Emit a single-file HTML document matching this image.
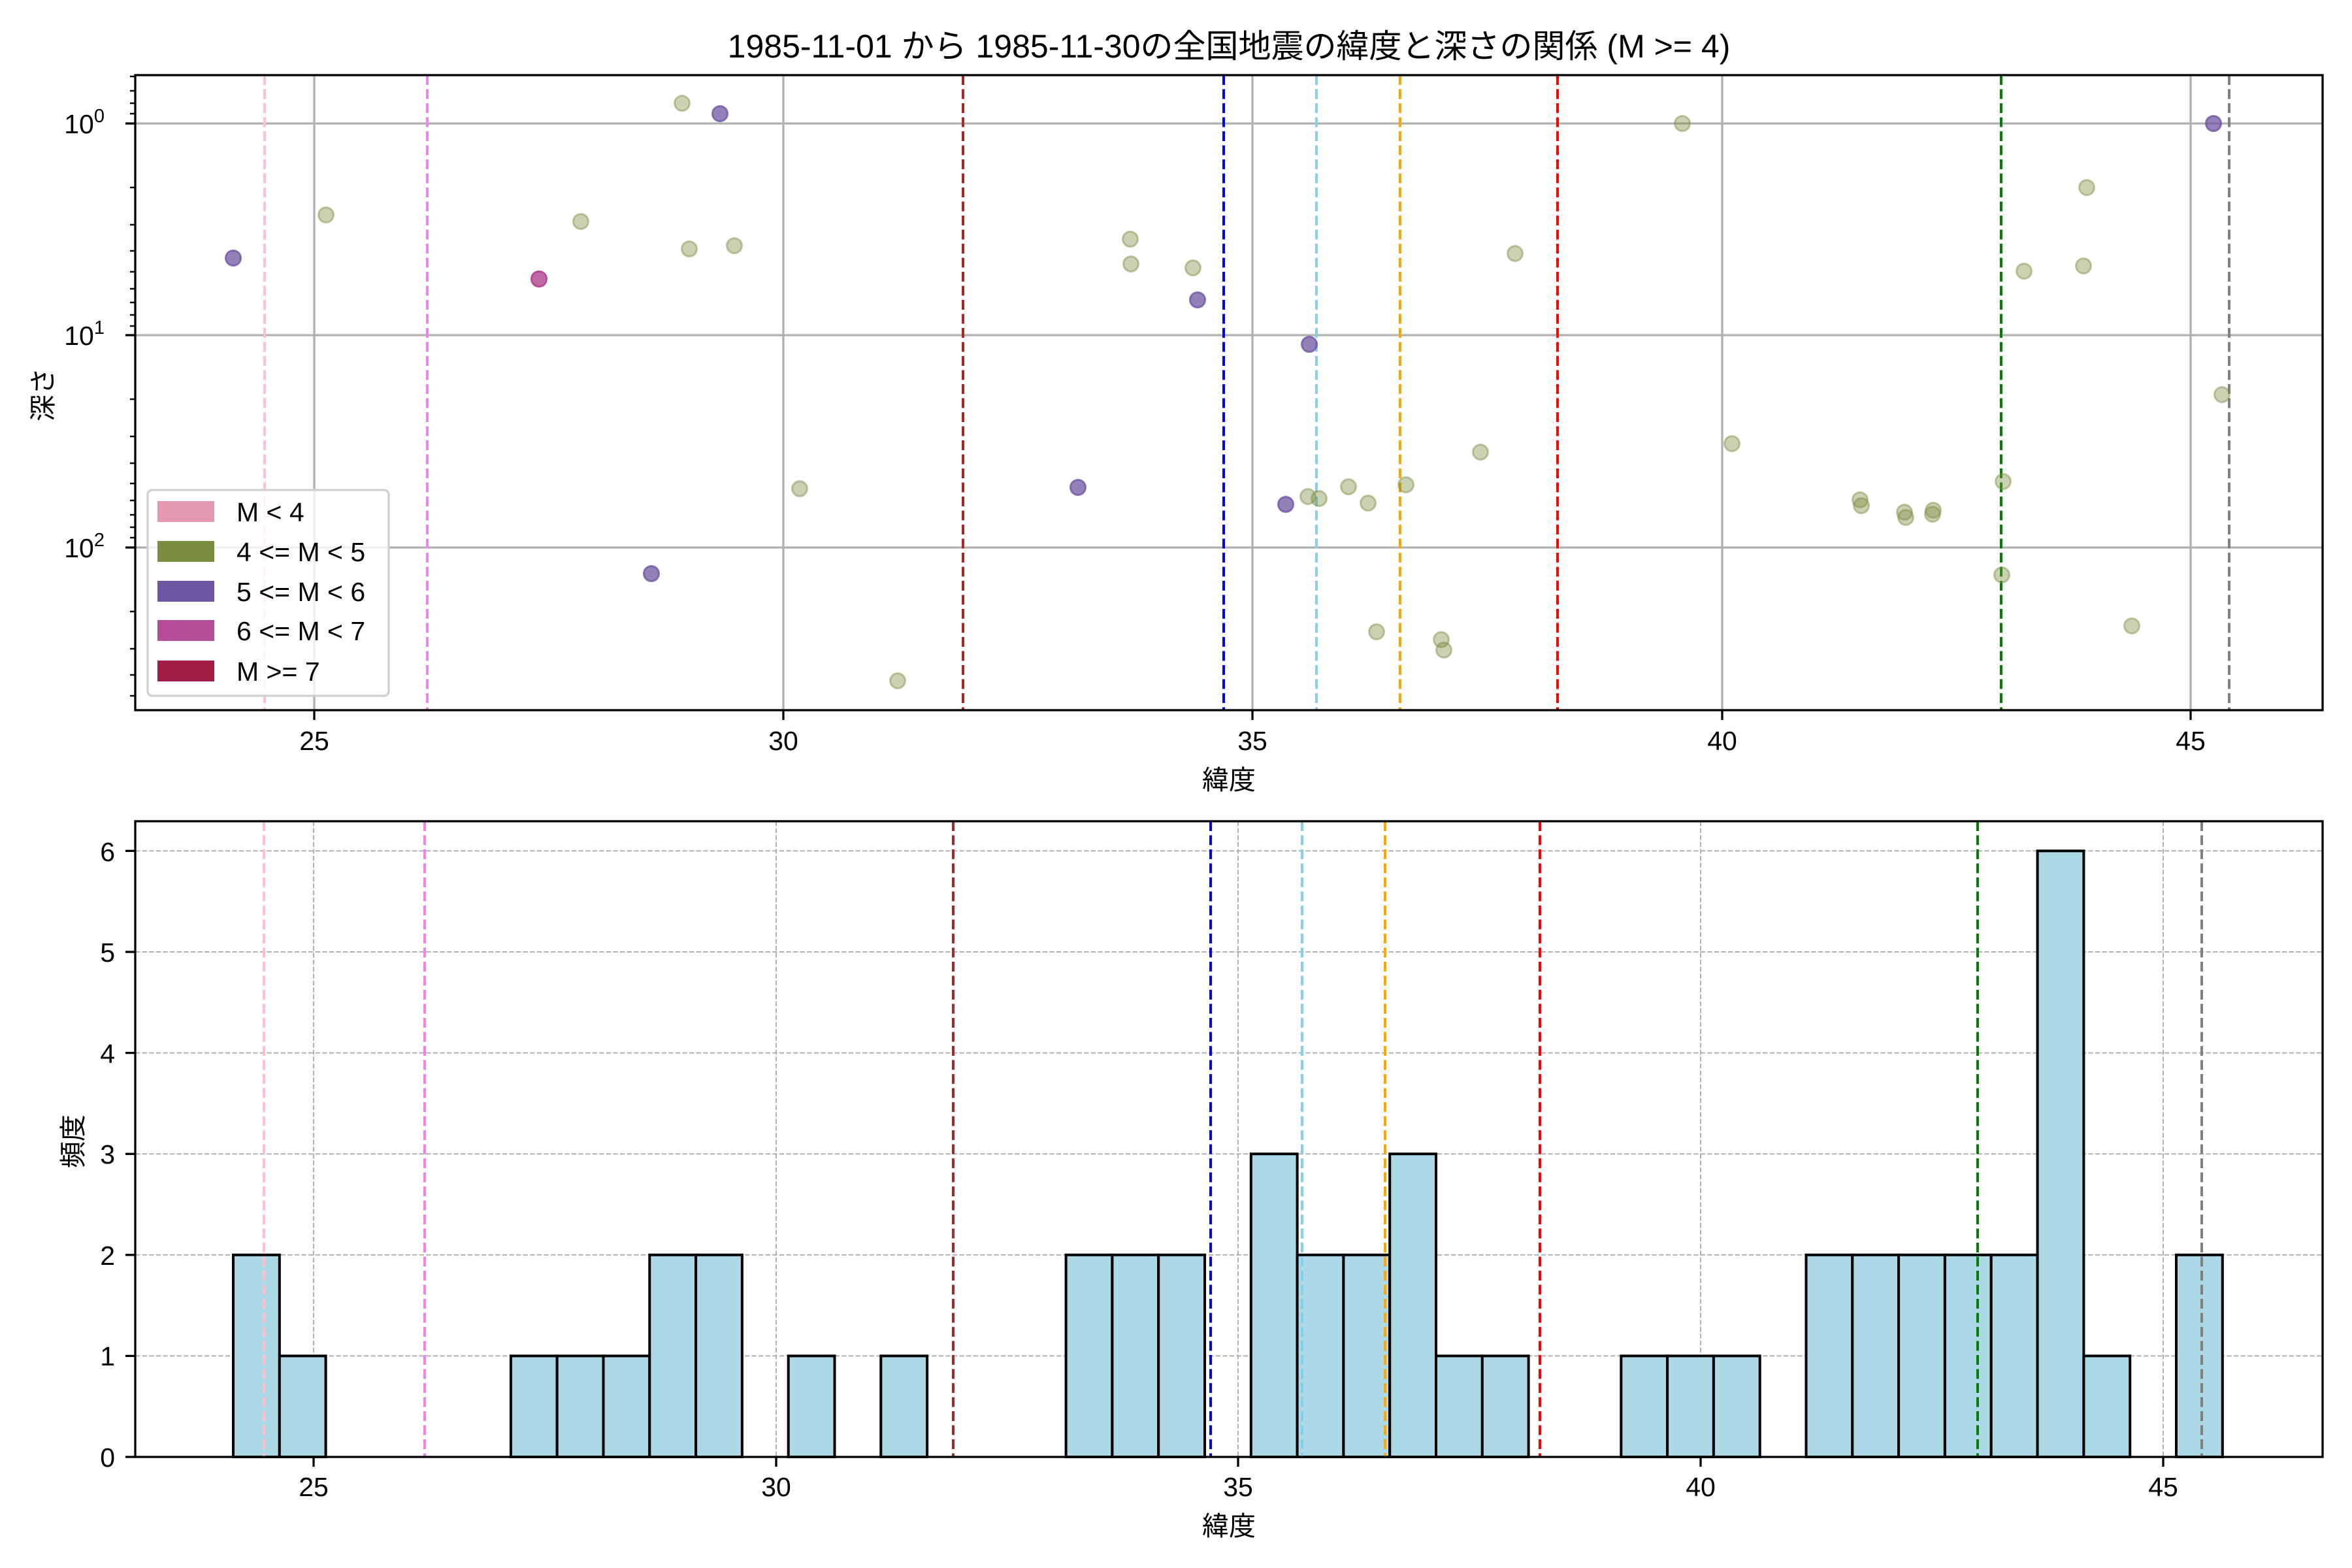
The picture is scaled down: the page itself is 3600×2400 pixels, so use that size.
<!DOCTYPE html>
<html><head><meta charset="utf-8"><style>
html,body{margin:0;padding:0;background:#fff}
svg{display:block}
text{font-family:"Liberation Sans","Noto Sans CJK JP",sans-serif;fill:#000}
</style></head><body>
<svg width="3600" height="2400" viewBox="0 0 3600 2400" xmlns="http://www.w3.org/2000/svg">
<rect width="3600" height="2400" fill="#fff"/>
<text x="1881" y="88" font-size="50" text-anchor="middle">1985-11-01 から 1985-11-30の全国地震の緯度と深さの関係 (M &gt;= 4)</text>

<!-- TOP AXES -->
<g stroke="#b0b0b0" stroke-width="3.3">
<line x1="481" y1="115" x2="481" y2="1087"/><line x1="1199" y1="115" x2="1199" y2="1087"/><line x1="1917" y1="115" x2="1917" y2="1087"/><line x1="2636" y1="115" x2="2636" y2="1087"/><line x1="3353" y1="115" x2="3353" y2="1087"/>
<line x1="207" y1="189" x2="3555" y2="189"/><line x1="207" y1="513" x2="3555" y2="513"/><line x1="207" y1="838" x2="3555" y2="838"/>
</g>
<g stroke-width="4" stroke-dasharray="15 6.5" fill="none">
<line x1="405" y1="115" x2="405" y2="1087" stroke="#ffc0cb"/>
<line x1="654" y1="115" x2="654" y2="1087" stroke="#ee82ee"/>
<line x1="1474" y1="115" x2="1474" y2="1087" stroke="#a52a2a"/>
<line x1="1873" y1="115" x2="1873" y2="1087" stroke="#0000ff"/>
<line x1="2015" y1="115" x2="2015" y2="1087" stroke="#87ceeb"/>
<line x1="2143" y1="115" x2="2143" y2="1087" stroke="#ffa500"/>
<line x1="2384" y1="115" x2="2384" y2="1087" stroke="#ff0000"/>
<line x1="3063" y1="115" x2="3063" y2="1087" stroke="#008000"/>
<line x1="3412" y1="115" x2="3412" y2="1087" stroke="#808080"/>
</g>
<g fill="#7d8b40" fill-opacity="0.4" stroke="#7d8b40" stroke-opacity="0.45" stroke-width="3">
<circle cx="499" cy="329" r="11.5"/><circle cx="889" cy="339" r="11.5"/><circle cx="1044" cy="158" r="11.5"/><circle cx="1055" cy="381" r="11.5"/><circle cx="1124" cy="376" r="11.5"/>
<circle cx="1224" cy="748" r="11.5"/><circle cx="1374" cy="1042" r="11.5"/><circle cx="1730" cy="366" r="11.5"/><circle cx="1731" cy="404" r="11.5"/><circle cx="1826" cy="410" r="11.5"/>
<circle cx="2002" cy="760" r="11.5"/><circle cx="2019" cy="763" r="11.5"/><circle cx="2064" cy="745" r="11.5"/><circle cx="2094" cy="770" r="11.5"/><circle cx="2152" cy="742" r="11.5"/><circle cx="2266" cy="692" r="11.5"/><circle cx="2319" cy="388" r="11.5"/><circle cx="2107" cy="967" r="11.5"/><circle cx="2206" cy="979" r="11.5"/><circle cx="2210" cy="995" r="11.5"/>
<circle cx="2575" cy="189" r="11.5"/><circle cx="3194" cy="287" r="11.5"/><circle cx="3098" cy="415" r="11.5"/><circle cx="3189" cy="407" r="11.5"/><circle cx="3401" cy="604" r="11.5"/><circle cx="2651" cy="679" r="11.5"/><circle cx="3066" cy="737" r="11.5"/>
<circle cx="2847" cy="765" r="11.5"/><circle cx="2849" cy="774" r="11.5"/><circle cx="2915" cy="784" r="11.5"/><circle cx="2917" cy="792" r="11.5"/><circle cx="2959" cy="781" r="11.5"/><circle cx="2958" cy="787" r="11.5"/><circle cx="3064" cy="880" r="11.5"/><circle cx="3263" cy="958" r="11.5"/>
</g>
<g fill="#6f57a3" fill-opacity="0.75" stroke="#6f57a3" stroke-opacity="0.8" stroke-width="3">
<circle cx="357" cy="395" r="11.5"/><circle cx="1102" cy="174" r="11.5"/><circle cx="997" cy="878" r="11.5"/><circle cx="1833" cy="459" r="11.5"/><circle cx="1650" cy="746" r="11.5"/><circle cx="2004" cy="527" r="11.5"/><circle cx="1968" cy="772" r="11.5"/><circle cx="3388" cy="189" r="11.5"/>
</g>
<circle cx="825" cy="427" r="11.5" fill="#b44d97" fill-opacity="0.85" stroke="#b44d97" stroke-width="3"/>

<!-- legend -->
<rect x="226" y="750" width="369" height="315" rx="7" fill="#fff" fill-opacity="0.8" stroke="#d0d0d0" stroke-width="3.3"/>
<rect x="241" y="767" width="87" height="32" fill="#e598b3"/>
<rect x="241" y="828" width="87" height="32" fill="#7a8c40"/>
<rect x="241" y="889" width="87" height="32" fill="#6f57a3"/>
<rect x="241" y="949" width="87" height="32" fill="#b44d97"/>
<rect x="241" y="1011" width="87" height="32" fill="#a11d43"/>
<g font-size="41">
<text x="362" y="798">M &lt; 4</text>
<text x="362" y="859">4 &lt;= M &lt; 5</text>
<text x="362" y="920">5 &lt;= M &lt; 6</text>
<text x="362" y="980">6 &lt;= M &lt; 7</text>
<text x="362" y="1042">M &gt;= 7</text>
</g>

<rect x="207" y="115" width="3348" height="972" fill="none" stroke="#000" stroke-width="3.3"/>
<g stroke="#000" stroke-width="3.3">
<line x1="481" y1="1087" x2="481" y2="1102"/><line x1="1199" y1="1087" x2="1199" y2="1102"/><line x1="1917" y1="1087" x2="1917" y2="1102"/><line x1="2636" y1="1087" x2="2636" y2="1102"/><line x1="3353" y1="1087" x2="3353" y2="1102"/>
<line x1="192" y1="189" x2="207" y2="189"/><line x1="192" y1="513" x2="207" y2="513"/><line x1="192" y1="838" x2="207" y2="838"/>
</g>
<g stroke="#000" stroke-width="2.5">
<line x1="199" y1="117" x2="207" y2="117"/><line x1="199" y1="139" x2="207" y2="139"/><line x1="199" y1="158" x2="207" y2="158"/><line x1="199" y1="174" x2="207" y2="174"/>
<line x1="199" y1="287" x2="207" y2="287"/><line x1="199" y1="344" x2="207" y2="344"/><line x1="199" y1="384" x2="207" y2="384"/><line x1="199" y1="416" x2="207" y2="416"/><line x1="199" y1="442" x2="207" y2="442"/><line x1="199" y1="463" x2="207" y2="463"/><line x1="199" y1="482" x2="207" y2="482"/><line x1="199" y1="499" x2="207" y2="499"/>
<line x1="199" y1="611" x2="207" y2="611"/><line x1="199" y1="668" x2="207" y2="668"/><line x1="199" y1="709" x2="207" y2="709"/><line x1="199" y1="740" x2="207" y2="740"/><line x1="199" y1="766" x2="207" y2="766"/><line x1="199" y1="788" x2="207" y2="788"/><line x1="199" y1="807" x2="207" y2="807"/><line x1="199" y1="823" x2="207" y2="823"/>
<line x1="199" y1="936" x2="207" y2="936"/><line x1="199" y1="993" x2="207" y2="993"/><line x1="199" y1="1033" x2="207" y2="1033"/><line x1="199" y1="1065" x2="207" y2="1065"/>
</g>
<g font-size="41" text-anchor="middle">
<text x="481" y="1148">25</text><text x="1199" y="1148">30</text><text x="1917" y="1148">35</text><text x="2636" y="1148">40</text><text x="3353" y="1148">45</text>
</g>
<g font-size="41" text-anchor="end">
<text x="160" y="204">10<tspan font-size="29" dy="-17">0</tspan></text>
<text x="160" y="528">10<tspan font-size="29" dy="-17">1</tspan></text>
<text x="160" y="853">10<tspan font-size="29" dy="-17">2</tspan></text>
</g>
<text x="1881" y="1208" font-size="41" text-anchor="middle">緯度</text>
<text transform="translate(80,604) rotate(-90)" font-size="41" text-anchor="middle">深さ</text>

<!-- BOTTOM AXES -->
<g stroke="#b0b0b0" stroke-width="2" stroke-dasharray="7.4 3.2">
<line x1="480" y1="1257" x2="480" y2="2230"/><line x1="1188" y1="1257" x2="1188" y2="2230"/><line x1="1895" y1="1257" x2="1895" y2="2230"/><line x1="2603" y1="1257" x2="2603" y2="2230"/><line x1="3311" y1="1257" x2="3311" y2="2230"/>
<line x1="207" y1="2075.4" x2="3555" y2="2075.4"/><line x1="207" y1="1920.8" x2="3555" y2="1920.8"/><line x1="207" y1="1766.2" x2="3555" y2="1766.2"/><line x1="207" y1="1611.6" x2="3555" y2="1611.6"/><line x1="207" y1="1457" x2="3555" y2="1457"/><line x1="207" y1="1302.4" x2="3555" y2="1302.4"/>
</g>
<g fill="#add8e6" stroke="#000" stroke-width="4">
<rect x="357" y="1920.8" width="70.8" height="309.2"/>
<rect x="427.8" y="2075.4" width="70.8" height="154.6"/>
<rect x="781.9" y="2075.4" width="70.8" height="154.6"/>
<rect x="852.7" y="2075.4" width="70.8" height="154.6"/>
<rect x="923.5" y="2075.4" width="70.8" height="154.6"/>
<rect x="994.3" y="1920.8" width="70.8" height="309.2"/>
<rect x="1065.1" y="1920.8" width="70.8" height="309.2"/>
<rect x="1206.7" y="2075.4" width="70.8" height="154.6"/>
<rect x="1348.3" y="2075.4" width="70.8" height="154.6"/>
<rect x="1631.6" y="1920.8" width="70.8" height="309.2"/>
<rect x="1702.4" y="1920.8" width="70.8" height="309.2"/>
<rect x="1773.2" y="1920.8" width="70.8" height="309.2"/>
<rect x="1914.8" y="1766.2" width="70.8" height="463.8"/>
<rect x="1985.6" y="1920.8" width="70.8" height="309.2"/>
<rect x="2056.4" y="1920.8" width="70.8" height="309.2"/>
<rect x="2127.2" y="1766.2" width="70.8" height="463.8"/>
<rect x="2198" y="2075.4" width="70.8" height="154.6"/>
<rect x="2268.8" y="2075.4" width="70.8" height="154.6"/>
<rect x="2481.3" y="2075.4" width="70.8" height="154.6"/>
<rect x="2552.1" y="2075.4" width="70.8" height="154.6"/>
<rect x="2622.9" y="2075.4" width="70.8" height="154.6"/>
<rect x="2764.5" y="1920.8" width="70.8" height="309.2"/>
<rect x="2835.3" y="1920.8" width="70.8" height="309.2"/>
<rect x="2906.1" y="1920.8" width="70.8" height="309.2"/>
<rect x="2976.9" y="1920.8" width="70.8" height="309.2"/>
<rect x="3047.7" y="1920.8" width="70.8" height="309.2"/>
<rect x="3118.6" y="1302.4" width="70.8" height="927.6"/>
<rect x="3189.4" y="2075.4" width="70.8" height="154.6"/>
<rect x="3331" y="1920.8" width="70.8" height="309.2"/>
</g>
<g stroke-width="4" stroke-dasharray="15 6.5" fill="none">
<line x1="404" y1="1257" x2="404" y2="2230" stroke="#ffc0cb"/>
<line x1="650" y1="1257" x2="650" y2="2230" stroke="#ee82ee"/>
<line x1="1459" y1="1257" x2="1459" y2="2230" stroke="#a52a2a"/>
<line x1="1853" y1="1257" x2="1853" y2="2230" stroke="#0000ff"/>
<line x1="1993" y1="1257" x2="1993" y2="2230" stroke="#87ceeb"/>
<line x1="2120" y1="1257" x2="2120" y2="2230" stroke="#ffa500"/>
<line x1="2357" y1="1257" x2="2357" y2="2230" stroke="#ff0000"/>
<line x1="3027" y1="1257" x2="3027" y2="2230" stroke="#008000"/>
<line x1="3370" y1="1257" x2="3370" y2="2230" stroke="#808080"/>
</g>
<rect x="207" y="1257" width="3348" height="973" fill="none" stroke="#000" stroke-width="3.3"/>
<g stroke="#000" stroke-width="3.3">
<line x1="480" y1="2230" x2="480" y2="2245"/><line x1="1188" y1="2230" x2="1188" y2="2245"/><line x1="1895" y1="2230" x2="1895" y2="2245"/><line x1="2603" y1="2230" x2="2603" y2="2245"/><line x1="3311" y1="2230" x2="3311" y2="2245"/>
<line x1="192" y1="2230" x2="207" y2="2230"/><line x1="192" y1="2075.4" x2="207" y2="2075.4"/><line x1="192" y1="1920.8" x2="207" y2="1920.8"/><line x1="192" y1="1766.2" x2="207" y2="1766.2"/><line x1="192" y1="1611.6" x2="207" y2="1611.6"/><line x1="192" y1="1457" x2="207" y2="1457"/><line x1="192" y1="1302.4" x2="207" y2="1302.4"/>
</g>
<g font-size="41" text-anchor="middle">
<text x="480" y="2290">25</text><text x="1188" y="2290">30</text><text x="1895" y="2290">35</text><text x="2603" y="2290">40</text><text x="3311" y="2290">45</text>
</g>
<g font-size="41" text-anchor="end">
<text x="176" y="2245">0</text><text x="176" y="2090">1</text><text x="176" y="1936">2</text><text x="176" y="1781">3</text><text x="176" y="1627">4</text><text x="176" y="1472">5</text><text x="176" y="1318">6</text>
</g>
<text x="1881" y="2350" font-size="41" text-anchor="middle">緯度</text>
<text transform="translate(126,1747) rotate(-90)" font-size="41" text-anchor="middle">頻度</text>
</svg>
</body></html>
